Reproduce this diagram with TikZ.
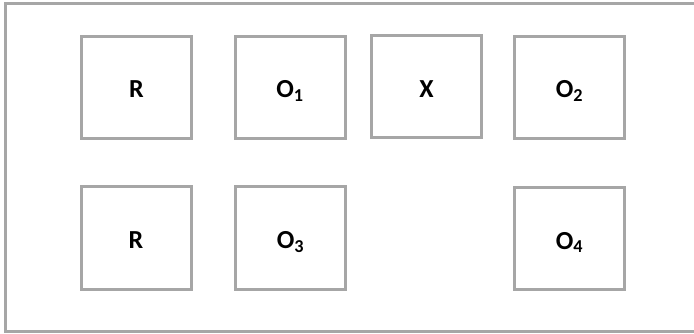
\documentclass[tikz,border=0pt]{standalone}
\usepackage{fontspec}
\setmainfont{Carlito}
\usepackage{tikz}
\definecolor{framegray}{HTML}{A6A6A6}
\newcommand\cellfont{\fontsize{26pt}{30pt}\selectfont\bfseries}
\tikzset{cell/.style={draw=framegray, line width=3pt, minimum width=110pt, minimum height=102pt, inner sep=0pt, text height=21pt, text depth=0pt, font=\cellfont}}

\begin{document}
\begin{tikzpicture}[x=1pt, y=-1pt]
\useasboundingbox (0,0) rectangle (694,334);
\draw [framegray, line width=3pt] (694,4) -- (5.5,4) -- (5.5,331.5) -- (694,331.5);
\node[cell] (r1) at (136.5,87.5) {R};
\node[cell] (o1) at (290,87.5) {O\textsubscript{1}};
\node[cell] (x) at (426.5,87) {X};
\node[cell] (o2) at (569.5,87.5) {O\textsubscript{2}};
\node[cell] (r2) at (136,238) {R};
\node[cell] (o3) at (290.5,238) {O\textsubscript{3}};
\node[cell] (o4) at (569.5,238.5) {O\textsubscript{4}};
\end{tikzpicture}
\end{document}
